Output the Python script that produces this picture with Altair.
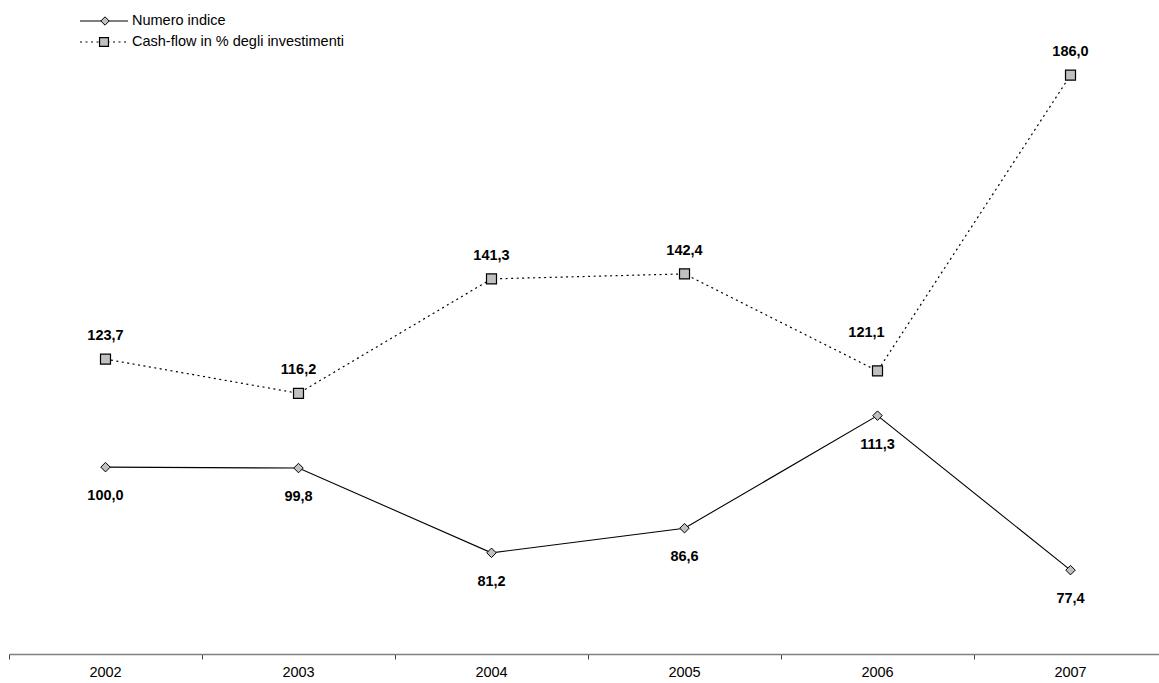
import altair as alt
import pandas as pd

years = [2002, 2003, 2004, 2005, 2006, 2007]
numero_indice = [100.0, 99.8, 81.2, 86.6, 111.3, 77.4]
cash_flow = [123.7, 116.2, 141.3, 142.4, 121.1, 186.0]
series_names = ["Numero indice", "Cash-flow in % degli investimenti"]

def fmt(v):
    return f"{v:.1f}".replace(".", ",")

df_ni = pd.DataFrame({"year": years, "value": numero_indice,
                      "label": [fmt(v) for v in numero_indice]})
df_cf = pd.DataFrame({"year": years, "value": cash_flow,
                      "label": [fmt(v) for v in cash_flow]})
df_years = pd.DataFrame({"year": years, "label": [str(y) for y in years]})

FONT = "Liberation Sans"
FS = 14.5
xscale = alt.Scale(domain=[2001.5, 2007.4585], nice=False, zero=False)
yscale = alt.Scale(domain=[59.0, 200.3], nice=False, zero=False)

X = alt.X("year:Q", scale=xscale,
          axis=alt.Axis(values=[2001.5, 2002.5, 2003.5, 2004.5, 2005.5, 2006.5],
                        labels=False, title=None, grid=False,
                        domainColor="#808080", tickColor="#404040",
                        tickSize=5, domainWidth=1.3, tickWidth=1))
Y = alt.Y("value:Q", scale=yscale, axis=None)

base_ni = alt.Chart(df_ni).encode(x=X, y=Y)
base_cf = alt.Chart(df_cf).encode(x=X, y=Y)

line_ni = base_ni.mark_line(color="black", strokeWidth=1.1)
pts_ni = base_ni.mark_point(shape="diamond", size=90, filled=True,
                            fill="#c0c0c0", stroke="black", strokeWidth=1, opacity=1)
lab_ni = base_ni.mark_text(dy=29, font=FONT, fontSize=FS, fontWeight="bold",
                           color="black").encode(text="label:N")

line_cf = base_cf.mark_line(color="black", strokeWidth=1.2, strokeDash=[2, 3.5])
pts_cf = base_cf.mark_point(shape="square", size=100, filled=True,
                            fill="#c0c0c0", stroke="black", strokeWidth=1.2, opacity=1)
lab_cf = base_cf.transform_filter("datum.year != 2006").mark_text(
    dy=-23, font=FONT, fontSize=FS, fontWeight="bold", color="black").encode(text="label:N")
lab_cf_2006 = base_cf.transform_filter("datum.year == 2006").mark_text(
    dy=-38, dx=-11, font=FONT, fontSize=FS, fontWeight="bold", color="black").encode(text="label:N")

year_labels = alt.Chart(df_years).mark_text(font=FONT, fontSize=FS, color="black").encode(
    x=alt.X("year:Q", scale=xscale), y=alt.value(663), text="label:N")

# legend
leg = pd.DataFrame({"name": series_names})
leg1 = alt.Chart(leg.iloc[[0]])
leg2 = alt.Chart(leg.iloc[[1]])
l1_line = leg1.mark_rule(color="black", strokeWidth=1.1).encode(
    x=alt.value(71), x2=alt.value(119), y=alt.value(11))
l1_pt = leg1.mark_point(shape="diamond", size=70, filled=True, fill="#c0c0c0",
                        stroke="black", strokeWidth=1, opacity=1).encode(
    x=alt.value(96), y=alt.value(11))
l1_txt = leg1.mark_text(align="left", font=FONT, fontSize=FS, color="black").encode(
    x=alt.value(123), y=alt.value(11), text="name:N")
l2_line = leg2.mark_rule(color="black", strokeWidth=1.2, strokeDash=[2, 3.5]).encode(
    x=alt.value(71), x2=alt.value(119), y=alt.value(32))
l2_pt = leg2.mark_point(shape="square", size=80, filled=True, fill="#c0c0c0",
                        stroke="black", strokeWidth=1.2, opacity=1).encode(
    x=alt.value(95), y=alt.value(32))
l2_txt = leg2.mark_text(align="left", font=FONT, fontSize=FS, color="black").encode(
    x=alt.value(123), y=alt.value(32), text="name:N")

chart = alt.layer(
    line_cf, line_ni, pts_cf, pts_ni, lab_cf, lab_cf_2006, lab_ni, year_labels,
    l1_line, l1_pt, l1_txt, l2_line, l2_pt, l2_txt
).properties(
    width=1150, height=644,
    autosize=alt.AutoSizeParams(type="none"),
    padding={"left": 9, "top": 10, "right": 0, "bottom": 29},
    background="white",
).configure_view(stroke=None).configure_axis(labelFont=FONT)

chart.save("out.html", embed_options={"renderer": "svg", "actions": False})
